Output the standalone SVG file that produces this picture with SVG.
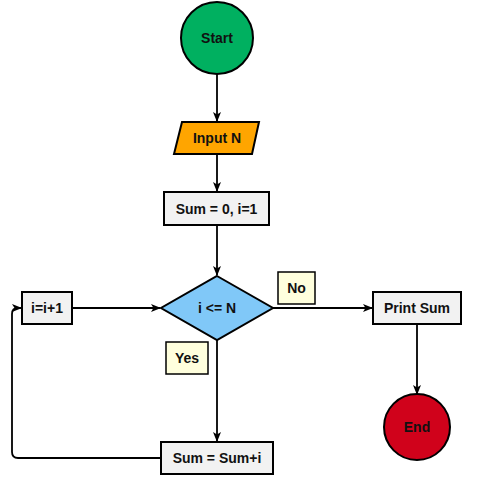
<svg xmlns="http://www.w3.org/2000/svg" width="500" height="477" viewBox="0 0 500 477">
<style>
.s{stroke:#000;stroke-width:2}
.t{font-family:"Liberation Sans",Arial,sans-serif;font-weight:bold;font-size:14px;fill:#111;text-anchor:middle;dominant-baseline:central}
.c{fill:none;stroke:#000;stroke-width:1.8}
.box{fill:#f2f2f2}
.lbl{fill:#ffffdd;stroke:#000;stroke-width:1.5}
</style>
<defs>
<marker id="ah" markerWidth="10" markerHeight="8" refX="9" refY="4" orient="auto" markerUnits="userSpaceOnUse">
<path d="M0,0 L10,4 L0,8 L2.5,4 Z" fill="#000"/>
</marker>
</defs>
<rect width="500" height="477" fill="#fff"/>
<g id="connectors">
<path class="c" d="M217,74 V121" marker-end="url(#ah)"/>
<path class="c" d="M217,154 V191" marker-end="url(#ah)"/>
<path class="c" d="M217,225 V275" marker-end="url(#ah)"/>
<path class="c" d="M72,308 H160" marker-end="url(#ah)"/>
<path class="c" d="M273,308 H372" marker-end="url(#ah)"/>
<path class="c" d="M417,324 V394" marker-end="url(#ah)"/>
<path class="c" d="M217,340 V441" marker-end="url(#ah)"/>
<path class="c" d="M161,458 H18 Q12,458 12,452 V314 Q12,308 18,308 H21" marker-end="url(#ah)"/>
</g>
<g id="start"><circle class="s" cx="217" cy="38" r="36" fill="#00b060"/><text class="t" x="217" y="38">Start</text></g>
<g id="input"><polygon class="s" points="182,122 259,122 252,154 174,154" fill="#ffa500"/><text class="t" x="217" y="138">Input N</text></g>
<g id="init"><rect class="s box" x="164" y="192" width="105" height="33"/><text class="t" x="216.5" y="208.5">Sum = 0, i=1</text></g>
<g id="cond"><polygon class="s" points="217,276 273,308 217,340 161,308" fill="#80c8f8"/><text class="t" x="217" y="308">i &lt;= N</text></g>
<g id="incr"><rect class="s box" x="22" y="292" width="50" height="32"/><text class="t" x="47" y="308">i=i+1</text></g>
<g id="print"><rect class="s box" x="373" y="292" width="88" height="32"/><text class="t" x="417" y="308">Print Sum</text></g>
<g id="end"><circle class="s" cx="417" cy="427" r="33" fill="#d0021b"/><text class="t" x="417" y="427">End</text></g>
<g id="add"><rect class="s box" x="161" y="442" width="112" height="32"/><text class="t" x="217" y="458">Sum = Sum+i</text></g>
<g id="no"><rect class="lbl" x="278" y="272" width="37" height="32"/><text class="t" x="296.5" y="288">No</text></g>
<g id="yes"><rect class="lbl" x="166" y="342" width="42" height="32"/><text class="t" x="187" y="358">Yes</text></g>
</svg>
